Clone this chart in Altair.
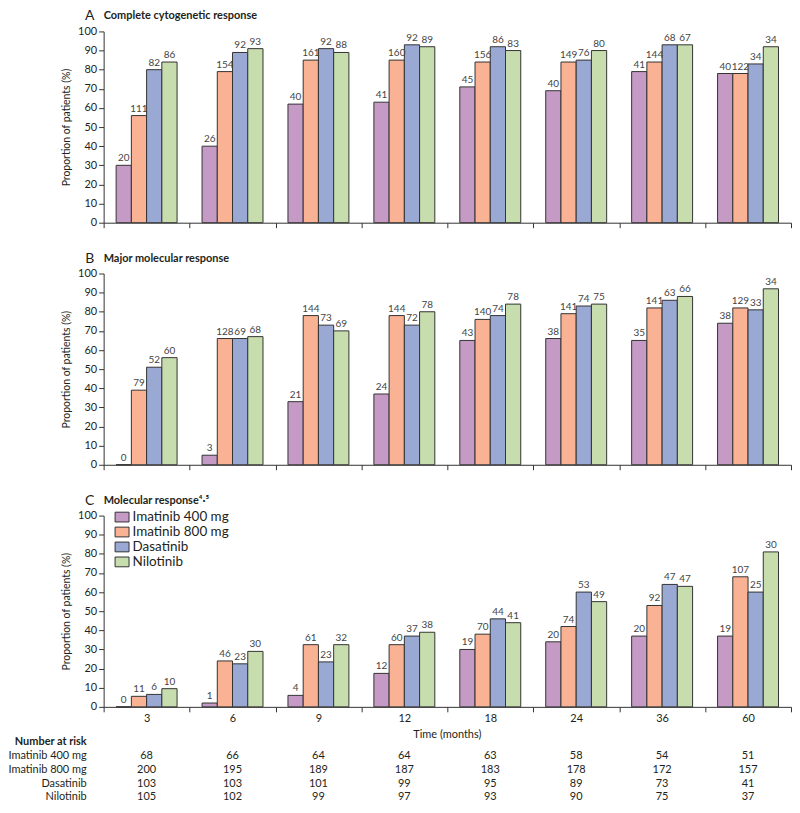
import altair as alt
import pandas as pd

times = ["3", "6", "9", "12", "18", "24", "36", "60"]
groups = ["Imatinib 400 mg", "Imatinib 800 mg", "Dasatinib", "Nilotinib"]
colors = ["#C59BC6", "#F9B294", "#9AA8D4", "#C7DDAE"]

# Panel A: complete cytogenetic response (% of patients) and numbers above bars
cyto_i400 = [30, 40, 62, 63, 71, 69, 79, 78]
cyto_i800 = [56, 79, 85, 85, 84, 84, 84, 78]
cyto_das = [80, 89, 91, 93, 92, 85, 93, 83]
cyto_nil = [84, 91, 89, 92, 90, 90, 93, 92]
cyto_n_i400 = [20, 26, 40, 41, 45, 40, 41, 40]
cyto_n_i800 = [111, 154, 161, 160, 156, 149, 144, 122]
cyto_n_das = [82, 92, 92, 92, 86, 76, 68, 34]
cyto_n_nil = [86, 93, 88, 89, 83, 80, 67, 34]

# Panel B: major molecular response
mmr_i400 = [0, 5, 33, 37, 65, 66, 65, 74]
mmr_i800 = [39, 66, 78, 78, 76, 79, 82, 82]
mmr_das = [51, 66, 73, 73, 78, 83, 86, 81]
mmr_nil = [56, 67, 70, 80, 84, 84, 88, 92]
mmr_n_i400 = [0, 3, 21, 24, 43, 38, 35, 38]
mmr_n_i800 = [79, 128, 144, 144, 140, 141, 141, 129]
mmr_n_das = [52, 69, 73, 72, 74, 74, 63, 33]
mmr_n_nil = [60, 68, 69, 78, 78, 75, 66, 34]

# Panel C: molecular response 4.5
mr_i400 = [0, 2, 6, 17.5, 30, 34, 37, 37]
mr_i800 = [5.5, 24, 32.5, 32.5, 38, 42, 53, 68]
mr_das = [6.5, 22.5, 23.5, 37, 46, 60, 64, 60]
mr_nil = [9.5, 29, 32.5, 39, 44, 55, 63, 81]
mr_n_i400 = [0, 1, 4, 12, 19, 20, 20, 19]
mr_n_i800 = [11, 46, 61, 60, 70, 74, 92, 107]
mr_n_das = [6, 23, 23, 37, 44, 53, 47, 25]
mr_n_nil = [10, 30, 32, 38, 41, 49, 47, 30]

# Number at risk
risk_i400 = [68, 66, 64, 64, 63, 58, 54, 51]
risk_i800 = [200, 195, 189, 187, 183, 178, 172, 157]
risk_das = [103, 103, 101, 99, 95, 89, 73, 41]
risk_nil = [105, 102, 99, 97, 93, 90, 75, 37]

risk_header = "Number at risk"
x_title = "Time (months)"
y_title = "Proportion of patients (%)"
y_ticks = [0, 10, 20, 30, 40, 50, 60, 70, 80, 90, 100]

FONT = "Lato"
TXT = "#231f20"
W, H = 690, 192


def long_df(series, counts):
    rows = []
    for g, vals, ns in zip(groups, series, counts):
        for t, v, k in zip(times, vals, ns):
            rows.append({"time": t, "group": g, "value": v, "n": k})
    return pd.DataFrame(rows)


def panel(series, counts, letter, title, last=False):
    df = long_df(series, counts)
    x_axis = alt.Axis(
        title=None,
        labels=last,
        domain=True,
        ticks=True,
        tickBand="extent",
        tickSize=5,
        labelAngle=0,
        labelFontSize=11,
        labelPadding=1,
    )
    x = alt.X("time:N", sort=times, scale=alt.Scale(paddingInner=0, paddingOuter=0), axis=x_axis)
    xo = alt.XOffset("group:N", sort=groups, scale=alt.Scale(paddingInner=0, paddingOuter=0.82))
    yscale = alt.Scale(domain=[0, 100], nice=False)
    y_axis = alt.Axis(
        values=y_ticks,
        title=y_title,
        titleFontSize=10.5,
        titleFontWeight="normal",
        titlePadding=6,
        labelFontSize=11,
        labelPadding=2,
        tickSize=5,
    )
    y = alt.Y("value:Q", scale=yscale, axis=y_axis)
    if last:
        legend = alt.Legend(
            title=None,
            orient="none",
            legendX=11,
            legendY=-6,
            symbolType="M-1,-0.7H1V0.7H-1Z",
            symbolSize=196,
            symbolStrokeColor="#333333",
            symbolStrokeWidth=1,
            symbolOpacity=1,
            labelFontSize=13.5,
            labelFont=FONT,
            labelColor=TXT,
            labelOffset=3,
            rowPadding=0,
            padding=0,
        )
    else:
        legend = None
    color = alt.Color("group:N", sort=groups, scale=alt.Scale(domain=groups, range=colors), legend=legend)

    bars = alt.Chart(df).mark_bar(stroke="#333333", strokeWidth=1, opacity=1).encode(
        x=x, xOffset=xo, y=y, color=color
    )
    if last:
        num_y = alt.Y("value:Q", scale=yscale, axis=None)
    else:
        num_y = alt.Y("value:Q", scale=yscale, axis=y_axis)
    nums = alt.Chart(df).mark_text(
        baseline="bottom", dy=-2, fontSize=10, font=FONT, color="#444444"
    ).encode(
        x=x,
        xOffset=xo,
        y=num_y,
        text="n:Q",
    )
    letter_mark = alt.Chart(pd.DataFrame({"t": [letter]})).mark_text(
        align="center", baseline="middle", fontSize=14, font=FONT, color=TXT
    ).encode(x=alt.value(-14), y=alt.value(-15), text="t:N")
    title_mark = alt.Chart(pd.DataFrame({"t": [title]})).mark_text(
        align="left", baseline="middle", fontSize=11, fontWeight="bold", font=FONT, color=TXT
    ).encode(x=alt.value(0), y=alt.value(-15), text="t:N")

    layers = [bars, nums, letter_mark, title_mark]

    if last:
        rows = [risk_header] + groups
        rdf = []
        for g, ns in zip(groups, [risk_i400, risk_i800, risk_das, risk_nil]):
            for t, k in zip(times, ns):
                rdf.append({"time": t, "row": g, "n": k})
        rdf = pd.DataFrame(rdf)
        ty = alt.Y(
            "row:N",
            sort=rows,
            scale=alt.Scale(domain=rows, range=[220, 290], paddingInner=0, paddingOuter=0),
            axis=None,
        )
        table = alt.Chart(rdf).mark_text(fontSize=11, font=FONT, color=TXT, baseline="middle").encode(
            x=x, y=ty, text="n:Q"
        )
        row_lab = alt.Chart(pd.DataFrame({"row": groups})).mark_text(
            align="right", baseline="middle", fontSize=11, font=FONT, color=TXT
        ).encode(x=alt.value(-17), y=ty, text="row:N")
        head = alt.Chart(pd.DataFrame({"row": [risk_header]})).mark_text(
            align="right", baseline="middle", fontSize=11, fontWeight="bold", font=FONT, color=TXT
        ).encode(x=alt.value(-17), y=ty, text="row:N")
        xt = alt.Chart(pd.DataFrame({"t": [x_title]})).mark_text(
            align="center", baseline="middle", fontSize=11, font=FONT, color=TXT
        ).encode(x=alt.value(W / 2), y=alt.value(H + 28), text="t:N")
        layers += [table, row_lab, head, xt]

    ch = alt.layer(*layers).properties(width=W, height=H)
    if last:
        ch = ch.resolve_scale(y="independent")
    return ch


pA = panel([cyto_i400, cyto_i800, cyto_das, cyto_nil],
           [cyto_n_i400, cyto_n_i800, cyto_n_das, cyto_n_nil],
           "A", "Complete cytogenetic response")
pB = panel([mmr_i400, mmr_i800, mmr_das, mmr_nil],
           [mmr_n_i400, mmr_n_i800, mmr_n_das, mmr_n_nil],
           "B", "Major molecular response")
pC = panel([mr_i400, mr_i800, mr_das, mr_nil],
           [mr_n_i400, mr_n_i800, mr_n_das, mr_n_nil],
           "C", "Molecular response\u2074\u00b7\u2075", last=True)

chart = (
    alt.vconcat(pA, pB, pC, spacing=23)
    .resolve_scale(color="independent")
    .properties(padding={"left": 0, "top": 0, "right": 0, "bottom": 0}, background="white")
    .configure_view(stroke=None)
    .configure_axis(
        grid=False,
        labelFont=FONT,
        titleFont=FONT,
        labelColor=TXT,
        titleColor=TXT,
        domainColor="#333333",
        tickColor="#333333",
        domainWidth=1,
        tickWidth=1,
    )
)

chart.save("out.html", embed_options={"renderer": "svg", "actions": False})
